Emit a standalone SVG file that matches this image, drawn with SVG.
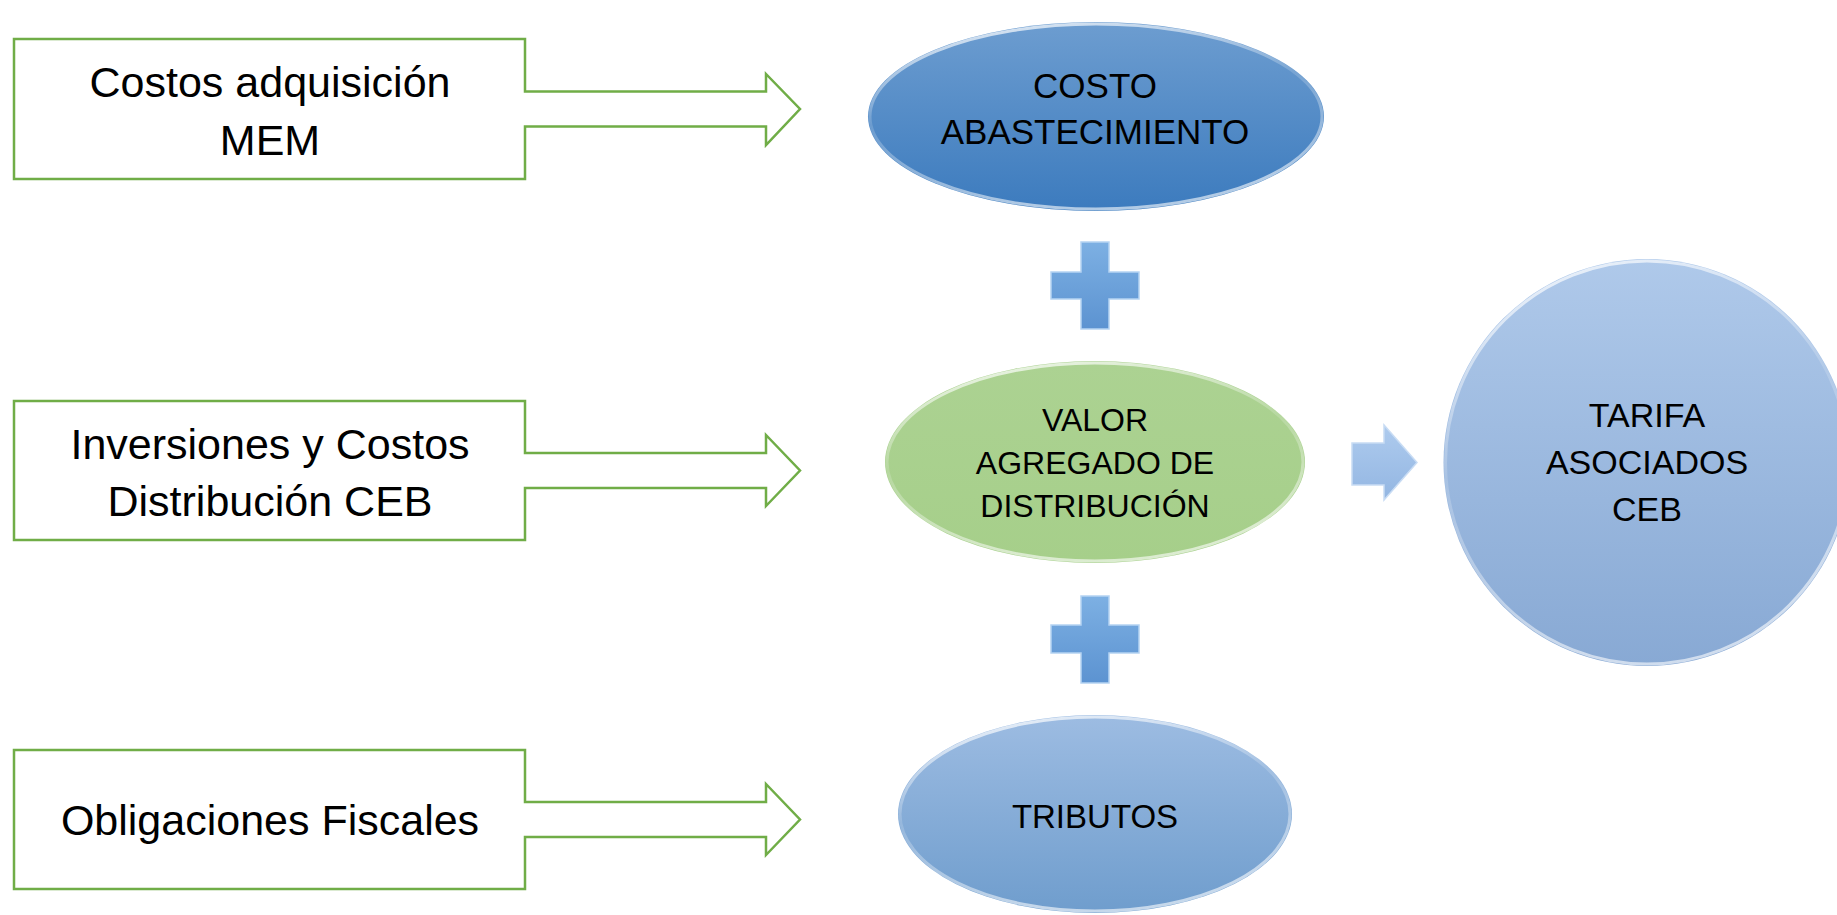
<svg xmlns="http://www.w3.org/2000/svg" width="1837" height="915" viewBox="0 0 1837 915">
<defs>
<linearGradient id="gBlue" x1="0" y1="0" x2="0" y2="1">
<stop offset="0" stop-color="#6D9DD0"/>
<stop offset="1" stop-color="#3C7BBE"/>
</linearGradient>
<linearGradient id="gGreen" x1="0" y1="0" x2="0" y2="1">
<stop offset="0" stop-color="#ACD292"/>
<stop offset="1" stop-color="#A6CF8A"/>
</linearGradient>
<linearGradient id="gTrib" x1="0" y1="0" x2="0" y2="1">
<stop offset="0" stop-color="#9DBCE2"/>
<stop offset="1" stop-color="#6F9DCD"/>
</linearGradient>
<linearGradient id="gCircle" x1="0" y1="0" x2="0" y2="1">
<stop offset="0" stop-color="#AFC9EA"/>
<stop offset="1" stop-color="#88A9D4"/>
</linearGradient>
<linearGradient id="gPlus" x1="0" y1="0" x2="0" y2="1">
<stop offset="0" stop-color="#7DB0E3"/>
<stop offset="1" stop-color="#5C93D1"/>
</linearGradient>
<linearGradient id="gArrow" x1="0" y1="0" x2="0" y2="1">
<stop offset="0" stop-color="#AECBEE"/>
<stop offset="1" stop-color="#93B6E2"/>
</linearGradient>
<linearGradient id="gGloss" x1="0" y1="0" x2="0.3" y2="1">
<stop offset="0" stop-color="#FFFFFF" stop-opacity="0.85"/>
<stop offset="0.5" stop-color="#FFFFFF" stop-opacity="0.15"/>
<stop offset="1" stop-color="#FFFFFF" stop-opacity="0.6"/>
</linearGradient>
</defs>
<style>
.box{fill:#FFFFFF;stroke:#70AD47;stroke-width:2.5;stroke-linejoin:miter}
.lbl{font-family:"Liberation Sans",Arial,sans-serif;font-size:43px;fill:#000000;text-anchor:middle}
.in{font-family:"Liberation Sans",Arial,sans-serif;fill:#000000;text-anchor:middle}
.gloss{fill:none;stroke:url(#gGloss);stroke-width:3}
.plus{fill:url(#gPlus);stroke:#B5D3F2;stroke-width:1.5}
</style>
<g id="node-costos-adquisicion">
<path class="box" d="M14,39 H525 V91.5 H766 V74 L800,109 L766,145 V126.5 H525 V179 H14 Z"/>
<text class="lbl" x="270" y="97">Costos adquisición</text>
<text class="lbl" x="270" y="155">MEM</text>
</g>
<g id="node-inversiones">
<path class="box" d="M14,401 H525 V453 H766 V435 L800,470.5 L766,506 V488 H525 V540 H14 Z"/>
<text class="lbl" x="270" y="459">Inversiones y Costos</text>
<text class="lbl" x="270" y="516">Distribución CEB</text>
</g>
<g id="node-obligaciones">
<path class="box" d="M14,750 H525 V802 H766 V784 L800,819.5 L766,855 V837 H525 V889 H14 Z"/>
<text class="lbl" x="270" y="835">Obligaciones Fiscales</text>
</g>
<g id="node-costo-abastecimiento">
<ellipse cx="1096" cy="116.5" rx="228" ry="94.5" fill="url(#gBlue)"/>
<ellipse class="gloss" cx="1096" cy="116.5" rx="226" ry="92.5"/>
<text class="in" x="1095" y="98" font-size="35">COSTO</text>
<text class="in" x="1095" y="144" font-size="35">ABASTECIMIENTO</text>
</g>
<g id="node-valor-agregado">
<ellipse cx="1095" cy="462" rx="210" ry="101" fill="url(#gGreen)"/>
<ellipse class="gloss" cx="1095" cy="462" rx="208" ry="99"/>
<text class="in" x="1095" y="431" font-size="32">VALOR</text>
<text class="in" x="1095" y="474" font-size="32">AGREGADO DE</text>
<text class="in" x="1095" y="517" font-size="32">DISTRIBUCIÓN</text>
</g>
<g id="node-tributos">
<ellipse cx="1095" cy="814" rx="197" ry="99" fill="url(#gTrib)"/>
<ellipse class="gloss" cx="1095" cy="814" rx="195" ry="97"/>
<text class="in" x="1095" y="828" font-size="33">TRIBUTOS</text>
</g>
<g id="node-tarifa">
<circle cx="1647" cy="462.5" r="203.5" fill="url(#gCircle)"/>
<circle class="gloss" cx="1647" cy="462.5" r="201.5"/>
<text class="in" x="1647" y="427" font-size="34">TARIFA</text>
<text class="in" x="1647" y="474" font-size="34">ASOCIADOS</text>
<text class="in" x="1647" y="521" font-size="34">CEB</text>
</g>
<g id="connectors">
<path class="plus" d="M1081,242 H1109 V272 H1139 V299 H1109 V329 H1081 V299 H1051 V272 H1081 Z"/>
<path class="plus" d="M1081,596 H1109 V625 H1139 V653 H1109 V683 H1081 V653 H1051 V625 H1081 Z"/>
<path d="M1352,443 H1384 V425 L1417,462.5 L1384,500 V485 H1352 Z" fill="url(#gArrow)" stroke="#C8DCF4" stroke-width="1.5"/>
</g>
</svg>
